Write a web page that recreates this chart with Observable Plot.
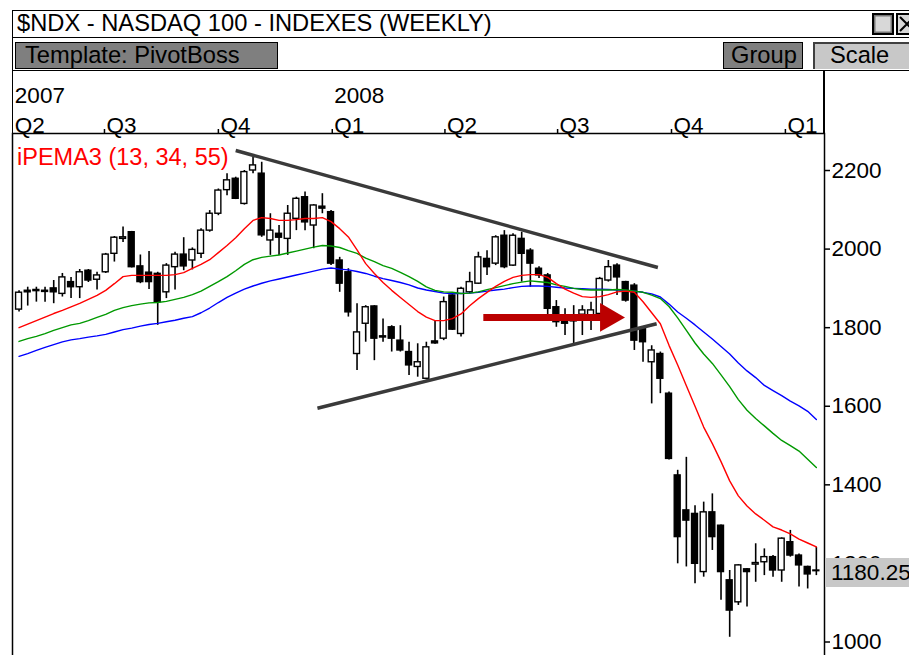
<!DOCTYPE html>
<html><head><meta charset="utf-8">
<script src="https://cdn.jsdelivr.net/npm/d3@7"></script>
<script src="https://cdn.jsdelivr.net/npm/@observablehq/plot@0.6"></script>
<style>
html,body{margin:0;padding:0;width:909px;height:655px;overflow:hidden;background:#fff;font-family:"Liberation Sans",Arial,sans-serif;}
#root{position:relative;width:909px;height:655px;overflow:hidden;}
.abs{position:absolute;box-sizing:border-box;}
.txt{position:absolute;white-space:nowrap;font-size:23.7px;color:#000;}
</style></head><body><div id="root"></div>
<script>
// ---- data ----
const titleText = "$NDX - NASDAQ 100 - INDEXES (WEEKLY)";
const templateText = "Template: PivotBoss";
const buttonTexts = ["Group", "Scale"];
const legendText = "iPEMA3 (13, 34, 55)";
const lastPrice = 1180.25;

const dates = ["2007-04-23","2007-04-30","2007-05-07","2007-05-14","2007-05-21","2007-05-28","2007-06-04","2007-06-11","2007-06-18","2007-06-25",
"2007-07-02","2007-07-09","2007-07-16","2007-07-23","2007-07-30","2007-08-06","2007-08-13","2007-08-20","2007-08-27","2007-09-03",
"2007-09-10","2007-09-17","2007-09-24","2007-10-01","2007-10-08","2007-10-15","2007-10-22","2007-10-29","2007-11-05","2007-11-12",
"2007-11-19","2007-11-26","2007-12-03","2007-12-10","2007-12-17","2007-12-24","2007-12-31","2008-01-07","2008-01-14","2008-01-21",
"2008-01-28","2008-02-04","2008-02-11","2008-02-18","2008-02-25","2008-03-03","2008-03-10","2008-03-17","2008-03-24","2008-03-31",
"2008-04-07","2008-04-14","2008-04-21","2008-04-28","2008-05-05","2008-05-12","2008-05-19","2008-05-26","2008-06-02","2008-06-09",
"2008-06-16","2008-06-23","2008-06-30","2008-07-07","2008-07-14","2008-07-21","2008-07-28","2008-08-04","2008-08-11","2008-08-18",
"2008-08-25","2008-09-01","2008-09-08","2008-09-15","2008-09-22","2008-09-29","2008-10-06","2008-10-13","2008-10-20","2008-10-27",
"2008-11-03","2008-11-10","2008-11-17","2008-11-24","2008-12-01","2008-12-08","2008-12-15","2008-12-22","2008-12-29","2009-01-05",
"2009-01-12","2009-01-19","2009-01-26"];

const open = [1846,1894,1893,1894,1900,1886,1916,1903,1945,1922,
1941,1988,2026,2043,1956,1940,1937,1890,1954,1986,
1971,1988,2047,2090,2150,2179,2115,2200,2192,2022,
2039,2026,2077,2132,2060,2108,2094,1971,1941,1733,
1810,1854,1778,1801,1767,1738,1700,1670,1765,1772,
1882,1784,1890,1912,1975,1963,2034,1958,2026,1996,
1950,1933,1852,1822,1816,1833,1820,1835,1920,1958,
1916,1907,1797,1712,1733,1632,1424,1335,1326,1178,
1330,1296,1157,1101,1185,1197,1203,1216,1182,1254,
1220,1191,1182];
const high = [1894,1903,1903,1903,1920,1938,1928,1948,1948,1941,
1989,2032,2056,2045,1985,1994,1941,1963,1992,2029,
2003,2052,2098,2153,2192,2183,2200,2234,2221,2090,
2060,2111,2132,2145,2113,2141,2098,1979,1950,1861,
1856,1856,1822,1805,1805,1763,1759,1763,1818,1878,
1884,1903,1941,1992,1996,2034,2047,2039,2043,2001,
1955,1938,1869,1848,1856,1856,1865,1928,1971,1963,
1918,1912,1801,1754,1738,1636,1437,1470,1347,1356,
1377,1298,1182,1197,1187,1250,1237,1220,1265,1284,
1224,1193,1241];
const low = [1840,1855,1865,1865,1861,1878,1874,1874,1915,1896,
1938,1967,2017,1952,1912,1897,1806,1874,1896,1945,
1947,1976,2043,2085,2136,2126,2112,2192,2030,1984,
1984,1984,2047,2047,2001,2090,1958,1890,1827,1691,
1763,1716,1763,1738,1738,1678,1674,1667,1758,1767,
1793,1776,1886,1910,1933,1958,1950,1956,1916,1903,
1925,1831,1801,1780,1759,1780,1793,1818,1916,1882,
1865,1742,1712,1606,1632,1463,1199,1191,1148,1165,
1233,1106,1012,1093,1089,1152,1169,1165,1152,1216,
1140,1135,1169];
const close = [1889,1890,1896,1891,1890,1928,1903,1941,1920,1933,
1986,2029,2030,1954,1916,1916,1865,1958,1986,1956,
1998,2047,2090,2149,2175,2128,2196,2213,2035,2047,
2029,2090,2128,2068,2111,2103,1963,1912,1839,1788,
1852,1772,1775,1772,1742,1704,1712,1750,1760,1865,
1795,1899,1916,1979,1954,2030,1954,2034,1988,1963,
1933,1848,1814,1810,1819,1844,1844,1924,1954,1928,
1869,1767,1763,1742,1670,1466,1267,1309,1199,1330,
1267,1178,1080,1195,1178,1201,1216,1182,1263,1220,
1195,1172,1180.25];

// iPEMA3 lines (13 red, 34 green, 55 blue)
const ema13 = [1800,1809,1818,1827,1836,1844,1853,1862,1872,1882,
1895,1912,1930,1933,1933,1933,1933,1933,1935,1940,
1951,1961,1973,1991,2009,2029,2052,2073,2080,2078,
2073,2073,2075,2078,2078,2080,2070,2052,2031,1998,
1963,1938,1915,1895,1877,1859,1841,1827,1818,1818,
1823,1835,1856,1874,1890,1905,1918,1928,1933,1935,
1935,1928,1912,1898,1888,1879,1877,1879,1884,1891,
1893,1890,1866,1838,1810,1755,1705,1652,1600,1547,
1505,1459,1410,1372,1346,1326,1310,1293,1285,1275,
1262,1252,1242];
const ema34 = [1765,1772,1778,1785,1793,1800,1807,1811,1818,1826,
1834,1844,1851,1856,1860,1863,1864,1867,1872,1877,
1884,1893,1905,1917,1930,1945,1961,1973,1979,1982,
1985,1990,1995,2000,2005,2009,2008,2004,1996,1989,
1977,1968,1958,1951,1941,1930,1918,1904,1895,1891,
1890,1887,1888,1891,1897,1902,1907,1912,1916,1919,
1917,1915,1909,1905,1900,1897,1896,1896,1896,1897,
1896,1893,1890,1883,1874,1854,1825,1793,1761,1733,
1709,1680,1650,1617,1590,1569,1550,1531,1513,1500,
1486,1465,1444];
const ema55 = [1727,1734,1742,1750,1757,1764,1769,1772,1776,1779,
1783,1789,1795,1799,1804,1808,1811,1815,1819,1824,
1828,1838,1850,1864,1877,1888,1898,1906,1913,1919,
1924,1929,1934,1939,1944,1949,1952,1949,1947,1943,
1938,1931,1925,1920,1915,1909,1901,1896,1892,1888,
1887,1887,1888,1890,1893,1896,1898,1902,1905,1906,
1906,1905,1903,1901,1900,1899,1898,1898,1897,1896,
1895,1893,1890,1886,1878,1860,1840,1824,1807,1789,
1771,1752,1733,1710,1690,1673,1653,1640,1627,1613,
1601,1587,1566];

// axis labels
const yTicks = [1000, 1200, 1400, 1600, 1800, 2000, 2200];
const quarterTickDates = ["2007-07-01","2007-10-01","2008-01-01","2008-04-01","2008-07-01","2008-10-01","2009-01-01"];
const quarterLabelDates = ["2007-04-18","2007-07-01","2007-10-01","2008-01-01","2008-04-01","2008-07-01","2008-10-01","2009-01-01"];
const quarterLabels = ["Q2","Q3","Q4","Q1","Q2","Q3","Q4","Q1"];
const yearLabelDates = ["2007-04-18","2008-01-01"];
const yearLabels = ["2007","2008"];

// drawn annotations (trend lines and arrow), in date / price terms
const trendStart = ["2007-10-15","2007-12-20"];
const trendStartPrice = [2251, 1595];
const trendEnd = ["2008-09-20","2008-09-19"];
const trendEndPrice = [1953, 1810];
const arrowFrom = "2008-05-02", arrowTo = "2008-08-06", arrowHead = "2008-08-11", arrowPrice = 1826;

// ---- build tables ----
const P = s => new Date(s);
const candles = dates.map((d, i) => ({date: P(d), open: open[i], high: high[i], low: low[i], close: close[i]}));
const lineRows = arr => dates.map((d, i) => ({date: P(d), v: arr[i]}));
const trends = trendStart.map((d, i) => ({x1: P(d), y1: trendStartPrice[i], x2: P(trendEnd[i]), y2: trendEndPrice[i]}));
const qLabels = quarterLabels.map((t, i) => ({date: P(quarterLabelDates[i]), t}));
const yLabels = yearLabels.map((t, i) => ({date: P(yearLabelDates[i]), t}));
const DAY = 864e5;

const FONT = "Liberation Sans, Arial, sans-serif";
const plot = Plot.plot({
  width: 909, height: 598,
  marginTop: 61, marginBottom: 5, marginLeft: 12, marginRight: 85,
  x: {type: "utc", domain: [new Date("2007-04-17T17:00Z"), new Date("2009-02-01T14:00Z")], axis: null, label: null},
  y: {domain: [940.2, 2294.2], axis: null, label: null},
  style: {fontFamily: FONT, background: "transparent", color: "#000"},
  marks: [
    Plot.ruleX(candles, {x: "date", y1: "low", y2: "high", stroke: "#000", strokeWidth: 1.6}),
    Plot.rect(candles, {
      x1: d => new Date(+d.date - 2.4 * DAY), x2: d => new Date(+d.date + 2.4 * DAY),
      y1: "open", y2: "close",
      fill: d => d.close >= d.open ? "#fff" : "#000", stroke: "#000", strokeWidth: 1.4
    }),
    Plot.line(lineRows(ema55), {x: "date", y: "v", stroke: "#0000ff", strokeWidth: 1.4}),
    Plot.line(lineRows(ema34), {x: "date", y: "v", stroke: "#009900", strokeWidth: 1.4}),
    Plot.line(lineRows(ema13), {x: "date", y: "v", stroke: "#ff0000", strokeWidth: 1.4}),
    Plot.link(trends, {x1: "x1", y1: "y1", x2: "x2", y2: "y2", stroke: "#3a3a3a", strokeWidth: 3.5}),
    Plot.link([{a: P(arrowFrom), b: P(arrowTo), p: arrowPrice}], {x1: "a", x2: "b", y1: "p", y2: "p", stroke: "#bb0000", strokeWidth: 7}),
    Plot.dot([{h: P(arrowHead), p: arrowPrice}], {x: "h", y: "p", symbol: "triangle", r: 10.7, rotate: 90, fill: "#bb0000", stroke: "none"}),
    Plot.frame({stroke: "#000", strokeWidth: 1.5}),
    Plot.axisY({anchor: "right", ticks: yTicks, tickSize: 5, tickPadding: 2, fontSize: 22.5, tickFormat: d => String(d), strokeWidth: 1.5}),
    Plot.axisX({anchor: "top", ticks: quarterTickDates.map(P), tickSize: 5, tickFormat: () => "", strokeWidth: 1.5}),
    Plot.text(qLabels, {x: "date", text: "t", frameAnchor: "top", dy: -16.5, dx: 2, textAnchor: "start", fontSize: 22.5, fill: "#000"}),
    Plot.text(yLabels, {x: "date", text: "t", frameAnchor: "top", dy: -46.5, dx: 2, textAnchor: "start", fontSize: 22.5, fill: "#000"}),
    Plot.text([legendText], {text: d => d, frameAnchor: "top-left", dx: 4.5, dy: 14.5, textAnchor: "start", fontSize: 23.5, fill: "#ff0000"})
  ]
});

// ---- page layout ----
const root = document.getElementById("root");
function box(css, html) { const e = document.createElement("div"); e.className = "abs"; e.style.cssText = css; if (html != null) e.innerHTML = html; root.appendChild(e); return e; }
function txt(css, t) { const e = document.createElement("div"); e.className = "txt"; e.style.cssText = css; e.textContent = t; root.appendChild(e); return e; }

plot.style.position = "absolute"; plot.style.left = "0px"; plot.style.top = "72px";
root.appendChild(plot);

// title bar
box("left:12px;top:9.5px;width:897px;height:1.5px;background:#000;");
box("left:12px;top:36.5px;width:897px;height:1.5px;background:#000;");
txt("left:17px;top:10px;line-height:27px;", titleText);
// window icons
box("left:872px;top:13px;width:22px;height:22px;border:2px solid #000;background:#d8d8d8;box-shadow:inset 0 0 0 1.5px #777;");
box("left:896px;top:13px;width:22px;height:22px;border:2px solid #000;background:#d8d8d8;",
  '<svg width="18" height="18" style="position:absolute;left:0;top:0"><path d="M2 2L16 16M16 2L2 16" stroke="#000" stroke-width="2"/></svg>');
// template bar
box("left:15px;top:42px;width:263px;height:27px;background:#7f7f7f;border:1.5px solid #000;");
txt("left:25px;top:42px;line-height:26px;", templateText);
box("left:723px;top:42px;width:80px;height:27px;background:#7f7f7f;border:1.5px solid #000;");
txt("left:731px;top:42px;line-height:26px;", buttonTexts[0]);
box("left:813px;top:42px;width:110px;height:27px;background:#c8c8c8;border-left:2px solid #404040;border-top:2px solid #404040;");
txt("left:830px;top:42px;line-height:26px;", buttonTexts[1]);
box("left:12px;top:69.5px;width:897px;height:1.5px;background:#000;");
// window left border and right axis divider in header
box("left:11.5px;top:9.5px;width:1.5px;height:660px;background:#000;");
box("left:823.3px;top:70px;width:1.5px;height:64px;background:#000;");

// last-price box, placed with the plot's y scale
const yLast = plot.scale("y").apply(lastPrice) + 72;
box(`left:825px;top:${yLast - 12.5}px;width:90px;height:29px;background:#c8c8c8;`);
txt(`left:831px;top:${yLast - 12.5}px;line-height:30px;font-size:22.5px;`, String(lastPrice));
</script></body></html>
